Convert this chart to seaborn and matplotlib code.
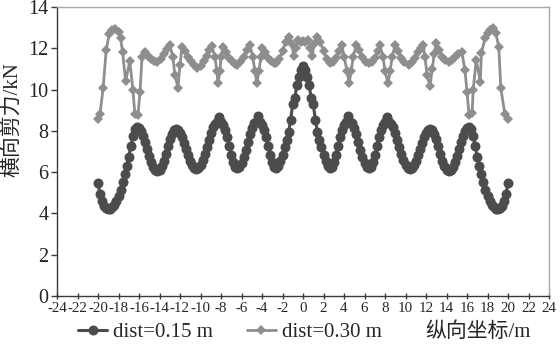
import numpy as np
import pandas as pd
import matplotlib
matplotlib.use("Agg")
import matplotlib.pyplot as plt
import seaborn as sns

# Longitudinal stations (m) for the 0.15 m series
x_015 = np.round(np.arange(-20.0, 20.0001, 0.2), 1)
# Lateral shear force (kN), dist = 0.15 m
y_015 = [
    5.45, 4.95, 4.60, 4.38, 4.25, 4.20, 4.22, 4.30, 4.42, 4.60,
    4.85, 5.15, 5.50, 5.90, 6.30, 6.75, 7.25, 7.75, 8.08, 8.20,
    8.15, 8.00, 7.76, 7.46, 7.13, 6.79, 6.49, 6.25, 6.10, 6.05,
    6.11, 6.29, 6.56, 6.90, 7.25, 7.59, 7.86, 8.04, 8.10, 8.05,
    7.91, 7.70, 7.43, 7.13, 6.82, 6.55, 6.34, 6.20, 6.15, 6.20,
    6.35, 6.58, 6.88, 7.22, 7.58, 7.92, 8.20, 8.35, 8.45, 8.65,
    8.45, 8.30, 8.05, 7.68, 7.25, 6.85, 6.50, 6.27, 6.20, 6.26,
    6.44, 6.72, 7.06, 7.45, 7.84, 8.15, 8.38, 8.45, 8.70, 8.45,
    8.30, 8.05, 7.68, 7.25, 6.85, 6.50, 6.27, 6.20, 6.30, 6.55,
    6.85, 7.20, 7.55, 7.95, 8.55, 9.30, 9.60, 10.20, 10.60, 10.95,
    11.15,
    10.95, 10.60, 10.20, 9.60, 9.30, 8.55, 7.95, 7.55, 7.20, 6.85,
    6.55, 6.30, 6.20, 6.27, 6.50, 6.85, 7.25, 7.68, 8.05, 8.30,
    8.45, 8.70, 8.45, 8.38, 8.15, 7.84, 7.45, 7.06, 6.72, 6.44,
    6.26, 6.20, 6.27, 6.50, 6.85, 7.25, 7.68, 8.05, 8.30, 8.45,
    8.65, 8.45, 8.35, 8.20, 7.92, 7.58, 7.22, 6.88, 6.58, 6.35,
    6.20, 6.15, 6.20, 6.34, 6.55, 6.82, 7.13, 7.43, 7.70, 7.91,
    8.05, 8.10, 8.04, 7.86, 7.59, 7.25, 6.90, 6.56, 6.29, 6.11,
    6.05, 6.10, 6.25, 6.49, 6.79, 7.13, 7.46, 7.76, 8.00, 8.15,
    8.20, 8.08, 7.75, 7.25, 6.75, 6.30, 5.90, 5.50, 5.15, 4.85,
    4.60, 4.42, 4.30, 4.22, 4.20, 4.25, 4.38, 4.60, 4.95, 5.45,
]

# Stations (m) and lateral shear force (kN), dist = 0.30 m
x_030 = [
    -20.0, -19.8, -19.5, -19.2, -18.9, -18.6, -18.3, -18.0, -17.8, -17.6,
    -17.3, -16.9, -16.6, -16.4, -16.1, -15.9, -15.7, -15.4, -15.1, -14.8,
    -14.5, -14.2, -13.9, -13.6, -13.3, -13.0, -12.7, -12.5, -12.2, -12.0,
    -11.8, -11.5, -11.2, -10.9, -10.6, -10.3, -10.0, -9.7, -9.4, -9.2,
    -8.9, -8.6, -8.4, -8.3, -8.1, -8.0, -7.8, -7.5, -7.2, -6.9,
    -6.6, -6.4, -6.1, -5.8, -5.5, -5.2, -4.9, -4.7, -4.5, -4.3,
    -4.1, -4.0, -3.7, -3.4, -3.1, -2.8, -2.6, -2.3, -2.0, -1.7,
    -1.4, -1.1, -0.9, -0.7, -0.45, -0.2, 0.0,
    0.2, 0.45, 0.7, 0.9, 1.1, 1.4, 1.7, 2.0, 2.3, 2.6,
    2.9, 3.2, 3.5, 3.8, 4.0, 4.3, 4.5, 4.7, 4.9, 5.2,
    5.5, 5.8, 6.1, 6.4, 6.7, 7.0, 7.3, 7.5, 7.8, 8.0,
    8.3, 8.5, 8.7, 9.0, 9.3, 9.6, 9.9, 10.3, 10.6, 10.9,
    11.2, 11.5, 11.7, 11.9, 12.1, 12.4, 12.6, 12.8, 13.0, 13.3,
    13.6, 13.9, 14.2, 14.5, 14.8, 15.1, 15.5, 15.8, 16.0, 16.2,
    16.5, 16.6, 16.9, 17.3, 17.4, 17.75, 18.0, 18.2, 18.5, 18.8,
    19.1, 19.3, 19.7, 20.0,
]
y_030 = [
    8.58, 8.82, 10.06, 11.92, 12.70, 12.90, 12.95, 12.78, 12.50, 11.80,
    10.40, 11.40, 10.00, 8.80, 8.77, 9.90, 11.60, 11.80, 11.65, 11.50,
    11.40, 11.35, 11.50, 11.70, 11.95, 12.16, 11.60, 10.70, 10.10, 11.20,
    12.08, 11.85, 11.60, 11.40, 11.20, 11.05, 11.15, 11.40, 11.65, 11.90,
    12.10, 11.60, 10.90, 10.30, 10.90, 11.60, 12.08, 11.80, 11.55, 11.40,
    11.25, 11.20, 11.35, 11.60, 11.90, 12.16, 11.60, 10.90, 10.30, 10.90,
    11.60, 12.00, 11.80, 11.55, 11.40, 11.30, 11.27, 11.50, 11.85, 12.30,
    12.55, 12.20, 11.65, 12.00, 12.40, 12.30, 12.35,
    12.30, 12.40, 12.00, 11.65, 12.20, 12.55, 12.30, 11.85, 11.50, 11.27,
    11.35, 11.55, 11.85, 12.16, 11.60, 10.90, 10.30, 10.90, 11.60, 12.16,
    11.90, 11.60, 11.35, 11.27, 11.35, 11.55, 11.85, 12.16, 11.60, 10.90,
    10.30, 10.90, 11.60, 12.16, 11.85, 11.55, 11.35, 11.20, 11.35, 11.55,
    11.80, 12.00, 12.16, 11.60, 10.70, 10.15, 11.00, 11.70, 12.24, 11.90,
    11.60, 11.45, 11.35, 11.45, 11.60, 11.70, 11.80, 10.95, 9.90, 8.77,
    8.85, 9.98, 11.43, 10.38, 11.75, 12.48, 12.75, 12.90, 12.97, 12.75,
    12.08, 10.06, 8.80, 8.56,
]

series_labels = ["dist=0.15 m", "dist=0.30 m"]
x_ticks = list(range(-24, 25, 2))
y_ticks = list(range(0, 15, 2))

df_015 = pd.DataFrame({"x": x_015, "y": y_015})
df_030 = pd.DataFrame({"x": x_030, "y": y_030})

sns.set_theme(style="white")
plt.rcParams["font.family"] = ["Liberation Serif", "Noto Sans CJK SC", "DejaVu Sans"]
plt.rcParams["axes.unicode_minus"] = False

fig = plt.figure(figsize=(5.6, 3.47), dpi=100)
ax = fig.add_axes([57 / 560, 1 - 296 / 347, 492 / 560, 289 / 347])

dark = "#4c4c4c"
light = "#8e8e8e"

sns.lineplot(data=df_015, x="x", y="y", ax=ax, color=dark, lw=2.2,
             marker="o", markersize=7.2, markeredgewidth=0, markerfacecolor=dark,
             estimator=None, errorbar=None, sort=False, label=series_labels[0])
sns.lineplot(data=df_030, x="x", y="y", ax=ax, color=light, lw=2.0,
             marker="D", markersize=4.8, markeredgewidth=0, markerfacecolor=light,
             estimator=None, errorbar=None, sort=False, label=series_labels[1])

ax.set_xlim(-24, 24)
ax.set_ylim(0, 14)
ax.set_xticks(x_ticks)
ax.set_xticklabels([str(v) for v in x_ticks])
ax.set_yticks(y_ticks)
ax.set_yticklabels([str(v) for v in y_ticks])

for side in ["left", "bottom"]:
    ax.spines[side].set_color("#3a3a3a")
    ax.spines[side].set_linewidth(1.0)
for side in ["top", "right"]:
    ax.spines[side].set_color("#a8a8a8")
    ax.spines[side].set_linewidth(1.0)

ax.tick_params(axis="y", direction="out", length=4, width=1, color="#3a3a3a",
               labelsize=14.5, pad=2, left=True)
ax.tick_params(axis="x", direction="inout", length=5, width=1, color="#3a3a3a",
               labelsize=10.8, pad=1.5, bottom=True)

ax.set_ylabel("横向剪力/kN", fontsize=15)
ax.yaxis.set_label_coords((12 - 57) / 492, (296 - 120) / 289)
ax.yaxis.label.set_va("center")

ax.set_xlabel("纵向坐标/m", fontsize=15)
ax.xaxis.set_label_coords((425 - 57) / 492, (296 - 332) / 289)
ax.xaxis.label.set_ha("left")
ax.xaxis.label.set_va("center")

ax.get_legend().remove()
handles, labels = ax.get_legend_handles_labels()
fig.legend(handles, labels, loc="center left", bbox_to_anchor=(78 / 560, 1 - 332 / 347),
           ncol=2, frameon=False, fontsize=15, handlelength=1.4, handletextpad=0.3,
           columnspacing=1.6, borderpad=0, borderaxespad=0)

fig.savefig("out.png", dpi=100, facecolor="white")
